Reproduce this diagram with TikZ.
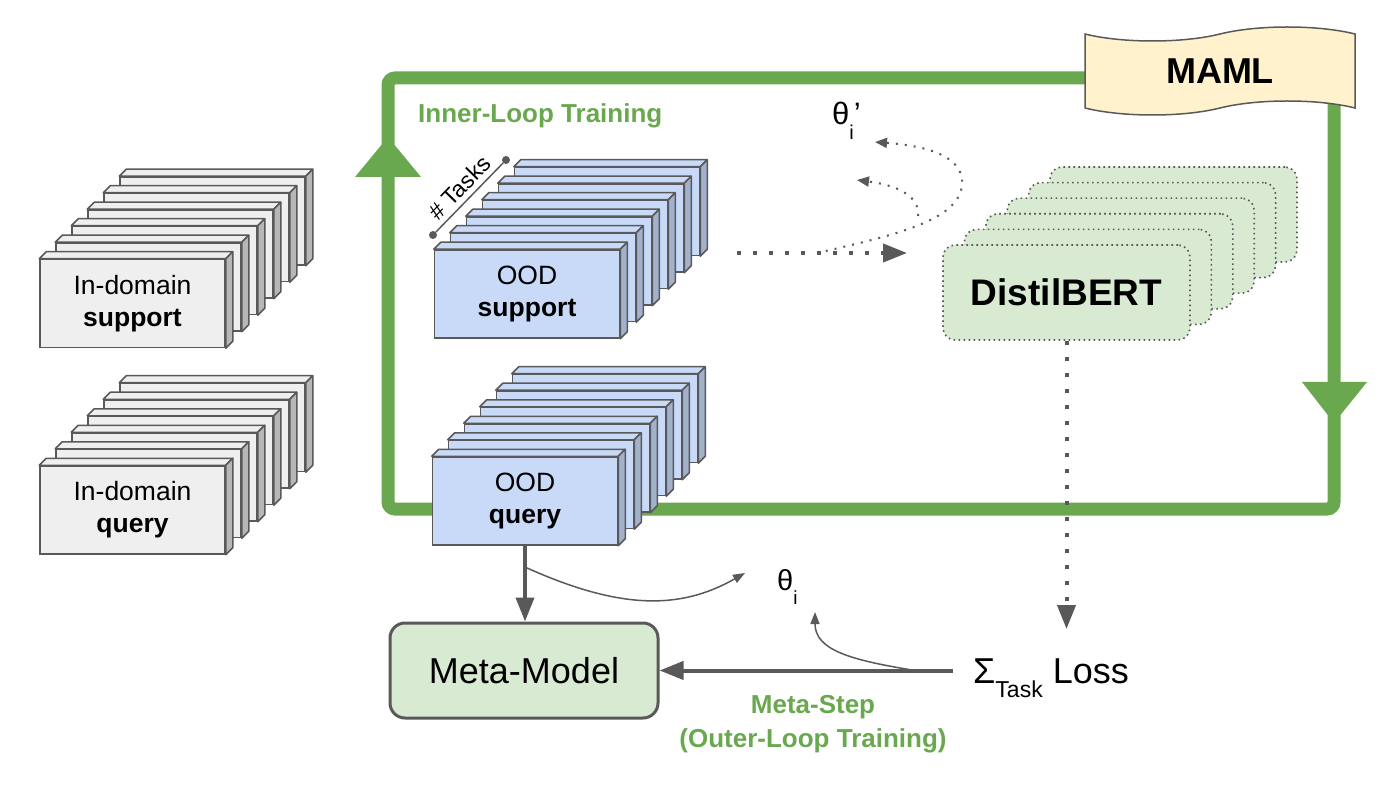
\documentclass[tikz,border=0pt]{standalone}
\usepackage{fontspec}
\setmainfont{Liberation Sans}
\usetikzlibrary{calc,arrows.meta,shapes.symbols}

\definecolor{loopgreen}{HTML}{6AA84F}
\definecolor{linegray}{HTML}{595959}
\definecolor{cardblue}{HTML}{C9DAF8}
\definecolor{cardblueside}{HTML}{A2B1CC}
\definecolor{cardgray}{HTML}{EFEFEF}
\definecolor{cardgrayside}{HTML}{B7B7B7}
\definecolor{modelgreen}{HTML}{D9EAD3}
\definecolor{mamlyellow}{HTML}{FFF2CC}

% stack of 6 cards: name, x, y of front card, front colour, side colour
\newcommand{\cardstack}[5]{%
  \foreach \k in {5,4,...,0}{%
    \node[card,fill=#4] (#1\k) at ({#2+16*\k},{#3-16.5*\k}) {};
    \draw[cardedge,fill=#4] (#1\k.north west) -- ++(7,-7) -- ([shift={(7,-7)}]#1\k.north east) -- (#1\k.north east) -- cycle;
    \draw[cardedge,fill=#5] (#1\k.north east) -- ++(7,-7) -- ([shift={(7,-7)}]#1\k.south east) -- (#1\k.south east) -- cycle;
  }%
}

\begin{document}
\begin{tikzpicture}[x=1pt,y=-1pt]
      \tikzstyle{loopline}=[draw=loopgreen,line width=13pt,rounded corners=7pt]
      \tikzstyle{card}=[draw=linegray,line width=1.5pt,minimum width=185pt,minimum height=88pt,inner sep=0pt]
      \tikzstyle{cardedge}=[draw=linegray,line width=1.5pt,line join=round]
      \tikzstyle{cardtext}=[align=center,font=\fontsize{26.5}{32}\selectfont]
      \tikzstyle{bertcard}=[draw=linegray,fill=modelgreen,line width=1.6pt,dash pattern=on 1.6pt off 3.4pt,rounded corners=12pt,minimum width=247pt,minimum height=95pt]
      \tikzstyle{bigdots}=[draw=linegray,line width=4pt,dash pattern=on 4pt off 12pt,-{Triangle[length=24pt,width=18pt]}]
      \tikzstyle{thindots}=[draw=linegray,line width=2pt,dash pattern=on 2pt off 7pt,-{Triangle[length=12pt,width=10pt]}]
      \tikzstyle{thickarrow}=[draw=linegray,line width=4pt,-{Triangle[length=24pt,width=18pt]}]
      \tikzstyle{thinarrow}=[draw=linegray,line width=1.5pt,-{Triangle[length=12pt,width=9pt]}]
      \tikzstyle{greenlabel}=[text=loopgreen,font=\bfseries\fontsize{26}{34}\selectfont,inner sep=0pt,align=center]
      \tikzstyle{thetalabel}=[font=\fontsize{31}{31}\selectfont,inner sep=0pt,anchor=base west]
      \tikzstyle{dotnode}=[circle,fill=linegray,inner sep=0pt,minimum size=8pt]

      \useasboundingbox (0,0) rectangle (1400,791);

      % training loop
      \draw[loopline] (700,509) -- (388,509) -- (388,78) -- (1334,78) -- (1334,509) -- cycle;
      \fill[loopgreen] (355,177) -- (421,177) -- (388,137) -- cycle;
      \fill[loopgreen] (1302,382) -- (1367,382) -- (1334,423) -- cycle;

      \node[tape,draw=linegray,fill=mamlyellow,line width=1.5pt,minimum width=270pt,minimum height=88pt,tape bend height=14pt,font=\bfseries\fontsize{36}{36}\selectfont] (maml) at (1220,71) {MAML};
      \node[greenlabel,anchor=base west] (innerlabel) at (418,123) {Inner-Loop Training};

      \cardstack{insup}{132.5}{303.5}{cardgray}{cardgrayside}
      \cardstack{inqry}{132.5}{510}{cardgray}{cardgrayside}
      \cardstack{oodsup}{527}{294}{cardblue}{cardblueside}
      \cardstack{oodqry}{525}{501}{cardblue}{cardblueside}
      \node[cardtext] (insuptext) at (insup0) {In-domain\\\textbf{support}};
      \node[cardtext] (inqrytext) at (inqry0) {In-domain\\\textbf{query}};
      \node[cardtext] (oodsuptext) at (oodsup0) {OOD\\\textbf{support}};
      \node[cardtext] (oodqrytext) at (oodqry0) {OOD\\\textbf{query}};

      \node[dotnode] (taskA) at (433,235) {};
      \node[dotnode] (taskB) at (506,160) {};
      \draw[draw=linegray,line width=1.5pt] (taskA) -- (taskB) node[midway,sloped,above=5pt,inner sep=0pt,font=\fontsize{23}{23}\selectfont] (tasklabel) {\# Tasks};

      \foreach \k in {5,4,...,0}
        \node[bertcard] (bert\k) at ({1066.5+21.4*\k},{292.5-15.6*\k}) {};
      \node[font=\bfseries\fontsize{37}{37}\selectfont] (berttext) at (bert0) {DistilBERT};

      \coordinate (supout) at (737,253);
      \coordinate (bertin) at (907,253);
      \draw[bigdots] (supout) -- (bertin);

      \node[thetalabel] (thetaprime) at (832,125) {θ\raisebox{-15pt}{\fontsize{20}{20}\selectfont i}’};
      \coordinate (dotsplit) at (817,253);
      \coordinate (dotsplitb) at (918,216);
      \coordinate (thetaprimeA) at (875,142);
      \coordinate (thetaprimeB) at (857,180);
      \draw[thindots] (dotsplit) .. controls (895,235) and (965,220) .. (962,180) .. controls (960,152) and (915,145) .. (thetaprimeA);
      \draw[thindots] (dotsplitb) .. controls (920,195) and (895,185) .. (thetaprimeB);

      \node[draw=linegray,fill=modelgreen,line width=3pt,rounded corners=15pt,minimum width=268pt,minimum height=95pt,font=\fontsize{36}{36}\selectfont] (metamodel) at (524,670.5) {Meta-Model};
      \node[anchor=base west,inner sep=0pt,font=\fontsize{36}{36}\selectfont] (losstext) at (973,683) {Σ\raisebox{-14pt}{\fontsize{23}{23}\selectfont Task} Loss};
      \node[greenlabel] (metasteplabel) at (813,724) {Meta-Step\\(Outer-Loop Training)};
      \node[thetalabel,font=\fontsize{29}{29}\selectfont] (thetai) at (777,590) {θ\raisebox{-14pt}{\fontsize{19}{19}\selectfont i}};

      \draw[bigdots,shorten >=29pt] (bert0.south) -- (bert0.south |- losstext.north);
      \draw[thickarrow] (oodqry0.south) -- (oodqry0.south |- metamodel.north);
      \draw[thickarrow] ($(metamodel.east -| losstext.west)+(-20,0)$) -- (metamodel.east);

      \coordinate (qsplit) at ($(oodqry0.south)!0.28!(metamodel.north)$);
      \coordinate (thetaiA) at (745,573);
      \coordinate (losssplit) at (915,670.5);
      \coordinate (thetaiB) at (815,612);
      \draw[thinarrow] (qsplit) .. controls (620,610) and (680,610) .. (thetaiA);
      \draw[thinarrow] (losssplit) .. controls (850,660) and (815,650) .. (thetaiB);
\end{tikzpicture}
\end{document}
